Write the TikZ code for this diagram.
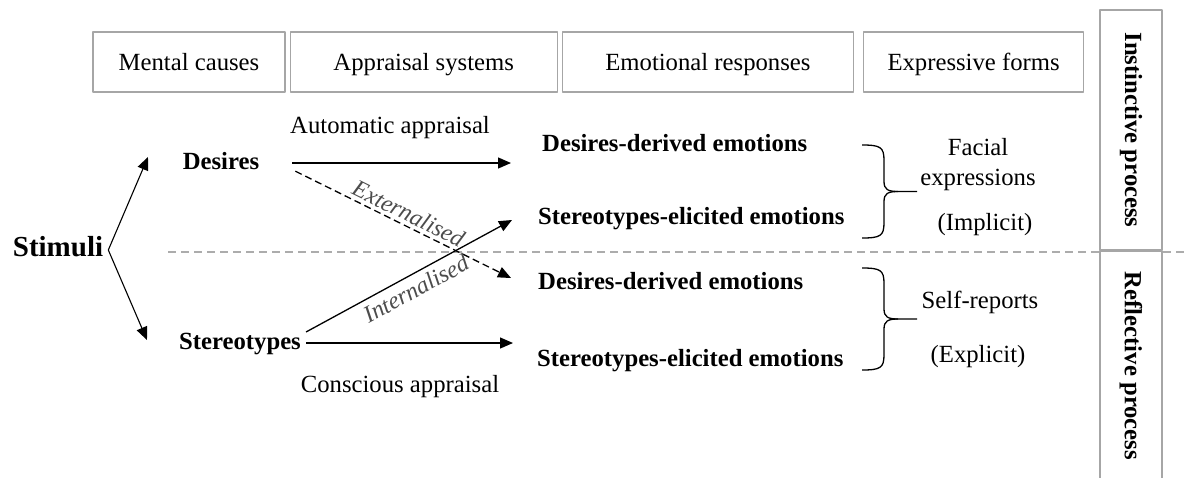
\documentclass[tikz,border=0pt]{standalone}
\usepackage{fontspec}
\setmainfont{Liberation Serif}
\usetikzlibrary{arrows.meta,positioning}
\begin{document}
\begin{tikzpicture}[x=1pt, y=-1pt, line join=round, >={Triangle[length=13pt,width=11pt]},
	font=\fontsize{24.7}{30}\selectfont,
	hdr/.style={draw=gray!70, line width=1.2pt, minimum height=60pt, inner sep=0pt, text height=19pt, text depth=3pt},
	side/.style={draw=gray!70, line width=1.2pt, rotate=-90, minimum height=62pt, inner sep=0pt, font=\fontsize{24.7}{30}\selectfont\bfseries},
	lbl/.style={font=\fontsize{24.7}{30}\selectfont\bfseries, inner sep=0pt, text height=17pt, text depth=5pt},
	emo/.style={lbl, anchor=west},
	arr/.style={->, line width=1.3pt},
	tag/.style={font=\fontsize{24}{28}\selectfont\itshape, text=black!70, sloped},
	sep/.style={gray!65, line width=1.2pt, dash pattern=on 8pt off 5pt}]
	\useasboundingbox (0,0) rectangle (1185,477);
	\tikzset{curly/.pic={
			\draw[line width=1.3pt] (0,-#1) .. controls (18,-#1) and (22,-#1+2) .. (22,-#1+15) -- (22,-10) .. controls (22,-2) and (26,0) .. (36,0) -- (55,0);
			\draw[line width=1.3pt] (36,0) .. controls (26,0) and (22,2) .. (22,10) -- (22,#1-15) .. controls (22,#1-2) and (18,#1) .. (0,#1);
	}}
	% column heads
	\node[hdr, minimum width=192pt] (mc) at (189,62) {Mental causes};
	\node[hdr, minimum width=267pt, right=4pt of mc] (as) {Appraisal systems};
	\node[hdr, minimum width=291pt, right=4pt of as] (er) {Emotional responses};
	\node[hdr, minimum width=220pt, right=9pt of er] (ef) {Expressive forms};
	\node[side, minimum width=240pt] (inst) at (1131,130) {Instinctive process};
	\node[side, minimum width=230pt] (refl) at (1131,366) {Reflective process};
	\draw[sep] (168,252) -- (1100,252) (1163,252) -- (1185,252);
	% stimuli
	\node[lbl, font=\fontsize{29}{34}\selectfont\bfseries] (stim) at (58,250) {Stimuli};
	\coordinate (fork) at ([xshift=5pt]stim.east);
	\coordinate (up) at (148,157);
	\coordinate (down) at (147,340);
	\draw[arr, line width=1.1pt] (fork) -- (up);
	\draw[arr, line width=1.1pt] (fork) -- (down);
	\node[lbl] (des) at (221,163) {Desires};
	\node[lbl] (ster) at (240,343) {Stereotypes};
	\node[emo] (dd1) at (542,145) {Desires-derived emotions};
	\node[emo] (se1) at (538,218) {Stereotypes-elicited emotions};
	\node[emo] (dd2) at (538,283) {Desires-derived emotions};
	\node[emo] (se2) at (537,360) {Stereotypes-elicited emotions};
	\draw[arr, shorten >=31pt] ([xshift=33pt]des.east) -- (des.east -| dd1.west);
	\draw[arr, dash pattern=on 7pt off 4pt] ([xshift=36pt, yshift=3pt]des.south east) -- ([xshift=-27pt, yshift=5pt]dd2.west) node[tag, midway, above] {Externalised};
	\draw[arr] ([xshift=5pt, yshift=11pt]ster.east) -- ([xshift=-26pt, yshift=-2pt]se1.west) node[tag, midway, below=2pt] {Internalised};
	\draw[arr, shorten >=24pt] ([xshift=5pt]ster.east) -- (ster.east -| se2.west);
	\node (auto) at (390,128) {Automatic appraisal};
	\node (consc) at (400,387) {Conscious appraisal};
	% expressive forms
	\pic at (862,191.5) {curly=46.5};
	\pic at (862,319) {curly=51};
	\node[align=center] (face) at (978,165) {Facial\\expressions};
	\node (impl) at (985,225) {(Implicit)};
	\node (self) at (980,302) {Self-reports};
	\node (expl) at (978,357) {(Explicit)};
\end{tikzpicture}
\end{document}
